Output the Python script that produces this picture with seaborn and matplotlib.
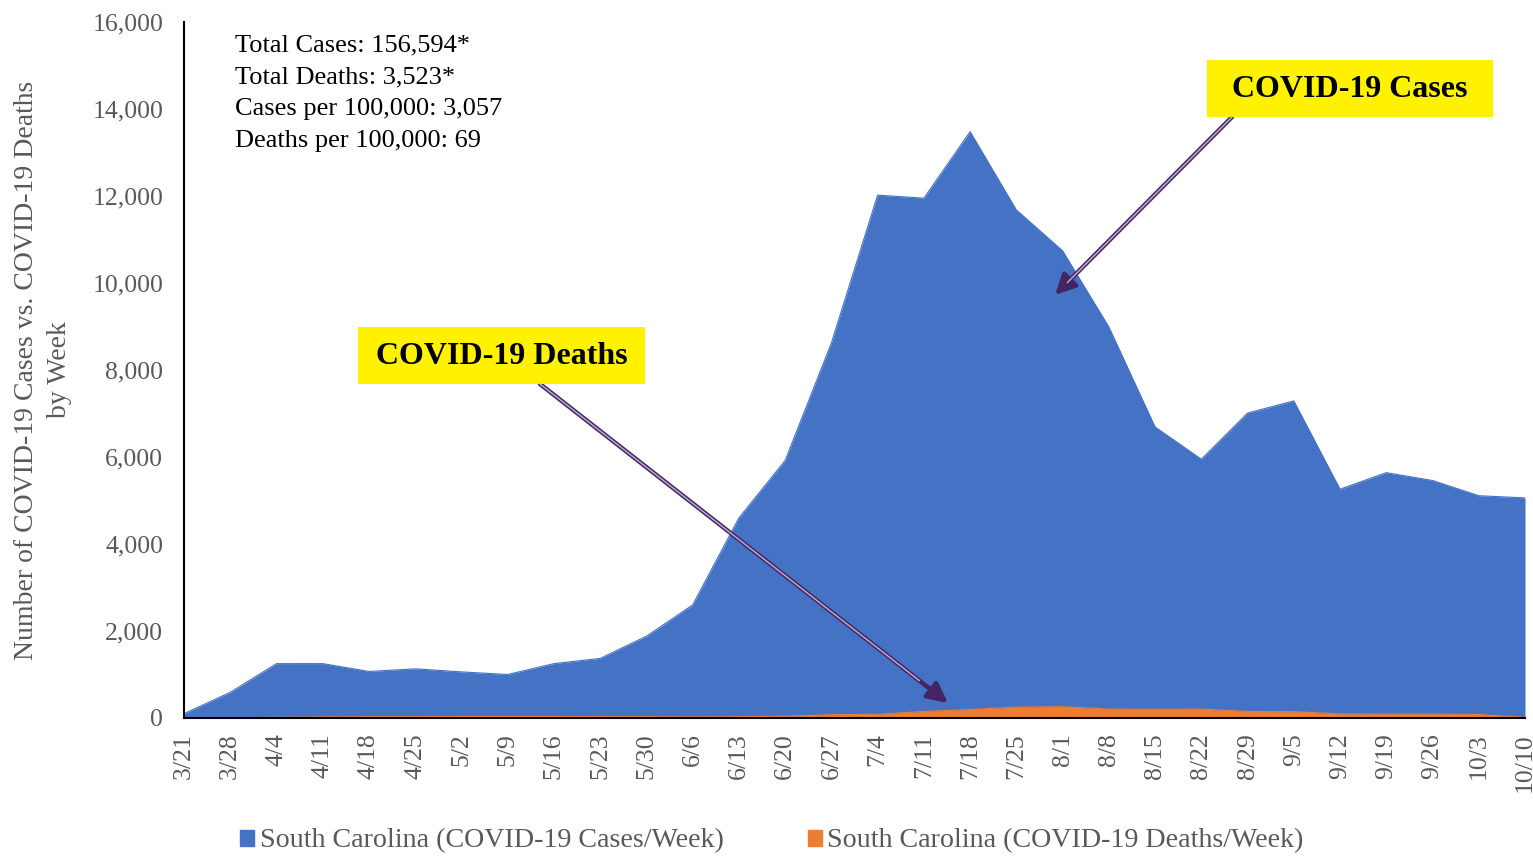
import numpy as np
import pandas as pd
import matplotlib
matplotlib.use("Agg")
import matplotlib.pyplot as plt
import seaborn as sns
from matplotlib.patches import Patch, Rectangle
from matplotlib.lines import Line2D

# weekly data
weeks = ["3/21", "3/28", "4/4", "4/11", "4/18", "4/25", "5/2", "5/9", "5/16", "5/23",
         "5/30", "6/6", "6/13", "6/20", "6/27", "7/4", "7/11", "7/18", "7/25", "8/1",
         "8/8", "8/15", "8/22", "8/29", "9/5", "9/12", "9/19", "9/26", "10/3", "10/10"]
cases = [100, 590, 1250, 1250, 1070, 1130, 1060, 1000, 1250, 1370,
         1880, 2600, 4600, 5920, 8620, 12020, 11950, 13480, 11680, 10740,
         8990, 6690, 5950, 7010, 7290, 5260, 5640, 5460, 5110, 5060]
deaths = [1, 5, 15, 25, 30, 30, 35, 35, 35, 30,
          30, 25, 30, 40, 75, 85, 150, 195, 250, 260,
          205, 200, 205, 150, 145, 95, 90, 90, 80, 15]
stats_lines = ["Total Cases: 156,594*", "Total Deaths: 3,523*",
               "Cases per 100,000: 3,057", "Deaths per 100,000: 69"]

df = pd.DataFrame({"week": weeks, "cases": cases, "deaths": deaths})
df["pos"] = np.arange(len(df))

sns.set_theme(style="white")
plt.rcParams["font.family"] = ["Liberation Serif", "DejaVu Serif"]

blue = "#4472C4"
orange = "#ED7D31"
grey = "#595959"
purple = "#452464"
W, H = 1533, 856

def fx(px):
    return px / W

def fy(py):
    return 1 - py / H

fig = plt.figure(figsize=(W / 100, H / 100), dpi=100)
ax = fig.add_axes([fx(184), fy(718), (1525 - 184) / W, (718 - 22) / H])

ax.fill_between(df["pos"], df["cases"], color=blue, lw=0)
ax.fill_between(df["pos"], df["deaths"], color=orange, lw=0)
sns.lineplot(data=df, x="pos", y="cases", color=blue, lw=0.8, ax=ax)
sns.lineplot(data=df, x="pos", y="deaths", color=orange, lw=0.8, ax=ax)

ax.set_xlim(0, len(df) - 1)
ax.set_ylim(0, 16000)
ax.set_xticks(df["pos"])
ax.set_xticklabels(df["week"], rotation=90, fontsize=18.5, color=grey)
ax.set_yticks(np.arange(0, 16001, 2000))
ax.set_yticklabels([f"{v:,}" for v in range(0, 16001, 2000)], fontsize=18.5, color=grey)
ax.tick_params(axis="y", direction="inout", length=14, width=1.5, color="black", pad=8)
ax.tick_params(axis="x", direction="out", length=7, width=1.5, color="black", pad=4)
ax.set_xlabel("")
ax.set_ylabel("")
for s in ["top", "right"]:
    ax.spines[s].set_visible(False)
for s in ["left", "bottom"]:
    ax.spines[s].set_color("black")
    ax.spines[s].set_linewidth(1.5)

# y axis title, two lines
fig.text(fx(27), fy(370), "Number of COVID-19 Cases vs. COVID-19 Deaths", rotation=90,
         fontsize=20, color=grey, ha="center", va="center")
fig.text(fx(60), fy(370), "by Week", rotation=90,
         fontsize=20, color=grey, ha="center", va="center")

# summary numbers
for i, line in enumerate(stats_lines):
    fig.text(fx(235), fy(45 + 32 * i), line, fontsize=19, color="black",
             ha="left", va="center")

# arrows: dark outline with a light core, filled head
def draw_arrow(tail, head):
    ax.annotate("", xy=(fx(head[0]), fy(head[1])), xycoords="figure fraction",
                xytext=(fx(tail[0]), fy(tail[1])), textcoords="figure fraction",
                arrowprops=dict(arrowstyle="-|>", color=purple, lw=3.2,
                                mutation_scale=30, shrinkA=0, shrinkB=0))
    t = 0.93
    mx = tail[0] + (head[0] - tail[0]) * t
    my = tail[1] + (head[1] - tail[1]) * t
    fig.add_artist(Line2D([fx(tail[0]), fx(mx)], [fy(tail[1]), fy(my)],
                          color="#B7A9D0", lw=1.1, transform=fig.transFigure))

draw_arrow((1232, 117), (1055, 295))
draw_arrow((540, 384), (948, 703))

# yellow callout boxes
def callout(x0, y0, x1, y1, text):
    fig.add_artist(Rectangle((fx(x0), fy(y1)), (x1 - x0) / W, (y1 - y0) / H,
                             transform=fig.transFigure, fc="#FFF200", ec="none"))
    fig.text(fx((x0 + x1) / 2), fy((y0 + y1) / 2 + 1), text, fontsize=23,
             fontweight="bold", ha="center", va="center", color="black")

callout(1207, 60, 1493, 117, "COVID-19 Cases")
callout(358, 327, 645, 384, "COVID-19 Deaths")

handles = [Patch(color=blue, label="South Carolina (COVID-19 Cases/Week)"),
           Patch(color=orange, label="South Carolina (COVID-19 Deaths/Week)")]
leg = fig.legend(handles=handles, loc="center", bbox_to_anchor=(fx(772), fy(841)),
                 ncol=2, frameon=False, fontsize=20.2, handlelength=0.5,
                 handleheight=0.5, handletextpad=0.2, columnspacing=3.0)
for t in leg.get_texts():
    t.set_color(grey)

fig.savefig("out.png", dpi=100)
